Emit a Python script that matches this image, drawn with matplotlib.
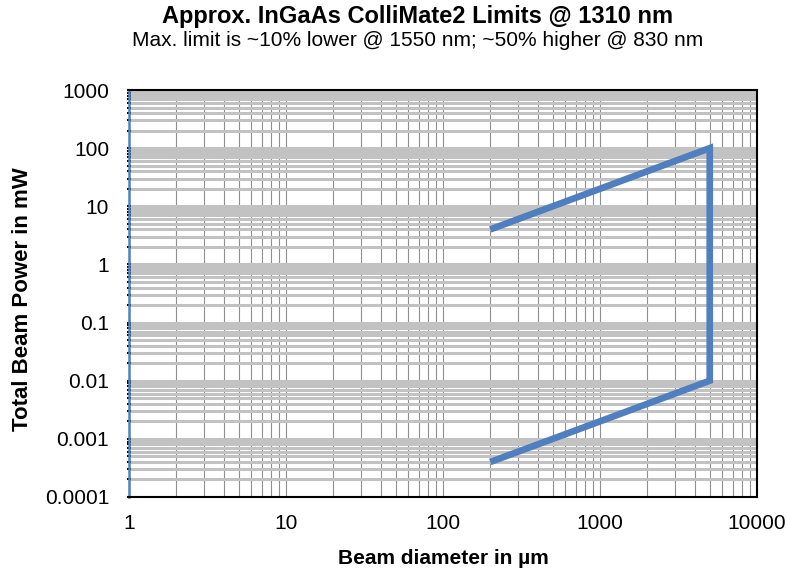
import matplotlib
matplotlib.use("Agg")
import matplotlib.pyplot as plt
from matplotlib.ticker import LogLocator, FixedLocator, NullFormatter

plt.rcParams['font.family'] = ['Liberation Sans', 'DejaVu Sans']

# Limit envelope: beam diameter (µm) vs total beam power (mW)
diameter_um = [200, 5000, 5000, 200]
power_mw = [4, 100, 0.01, 0.0004]

x_ticks = [1, 10, 100, 1000, 10000]
x_labels = ["1", "10", "100", "1000", "10000"]
y_ticks = [0.0001, 0.001, 0.01, 0.1, 1, 10, 100, 1000]
y_labels = ["0.0001", "0.001", "0.01", "0.1", "1", "10", "100", "1000"]

fig = plt.figure(figsize=(7.87, 5.73), dpi=100)
ax = fig.add_axes([129 / 787, 1 - 497 / 573, (757 - 129) / 787, (497 - 90) / 573])

ax.set_xscale('log')
ax.set_yscale('log')
ax.set_xlim(1, 10000)
ax.set_ylim(0.0001, 1000)

ax.xaxis.set_major_locator(FixedLocator(x_ticks))
ax.set_xticklabels(x_labels)
ax.xaxis.set_minor_locator(LogLocator(base=10, subs=range(2, 10), numticks=20))
ax.xaxis.set_minor_formatter(NullFormatter())
ax.yaxis.set_major_locator(FixedLocator(y_ticks))
ax.set_yticklabels(y_labels)
ax.yaxis.set_minor_locator(LogLocator(base=10, subs=range(2, 10), numticks=20))
ax.yaxis.set_minor_formatter(NullFormatter())

# Grid: thick light horizontal bands, thin darker vertical lines
ax.grid(True, which='both', axis='y', color='#c2c2c2', linewidth=2.2)
ax.grid(True, which='both', axis='x', color='#8f8f8f', linewidth=0.8)
ax.set_axisbelow(True)

ax.plot(diameter_um, power_mw, color='#4F7FBE', linewidth=4.8,
        solid_joinstyle='miter', solid_capstyle='butt', zorder=3)

for side in ['top', 'bottom', 'right']:
    ax.spines[side].set_color('black')
    ax.spines[side].set_linewidth(1.5)
ax.spines['left'].set_color('#4F81BD')
ax.spines['left'].set_linewidth(1.8)

ax.tick_params(axis='x', which='both', length=0, labelsize=15, pad=12, colors='black')
ax.tick_params(axis='y', which='both', direction='inout', length=2.5, width=1.5,
               color='black', labelsize=15, pad=13)

ax.set_xlabel('Beam diameter in µm', fontsize=15, fontweight='bold')
ax.set_ylabel('Total Beam Power in mW', fontsize=16, fontweight='bold')
ax.xaxis.set_label_coords(0.5, -(558 - 497) / 407)
ax.yaxis.set_label_coords(-(129 - 23) / 628, (497 - 299) / 407)
ax.xaxis.label.set_va('center')
ax.yaxis.label.set_va('center')

fig.text(418 / 787, 1 - 17 / 573, 'Approx. InGaAs ColliMate2 Limits @ 1310 nm',
         ha='center', va='center', fontsize=17, fontweight='bold')
fig.text(418 / 787, 1 - 41 / 573, 'Max. limit is ~10% lower @ 1550 nm; ~50% higher @ 830 nm',
         ha='center', va='center', fontsize=15)

fig.savefig('out.png', dpi=100)
